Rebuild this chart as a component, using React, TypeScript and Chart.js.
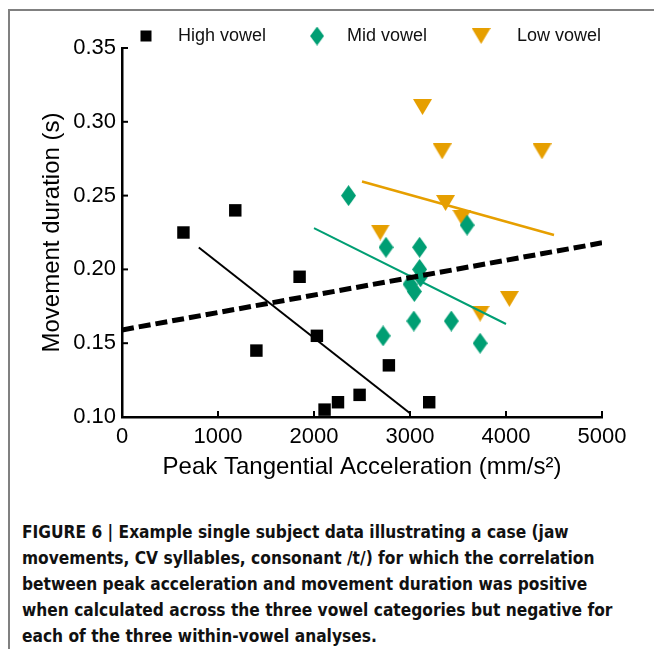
import React, { useEffect, useRef } from "react";
import { Chart, registerables } from "chart.js";

Chart.register(...registerables);

// ---- Data ----
const seriesLabels = ["High vowel", "Mid vowel", "Low vowel"];

const highX = [640, 1180, 1400, 1850, 2030, 2110, 2250, 2475, 2780, 3200];
const highY = [0.225, 0.24, 0.145, 0.195, 0.155, 0.105, 0.11, 0.115, 0.135, 0.11];

const midX = [2360, 2750, 3100, 3100, 3110, 3000, 3045, 3040, 3430, 2720, 3730, 3595];
const midY = [0.25, 0.215, 0.215, 0.2, 0.195, 0.19, 0.185, 0.165, 0.165, 0.155, 0.15, 0.23];

const lowX = [3130, 3335, 4375, 3370, 3540, 2690, 3730, 4035];
const lowY = [0.31, 0.28, 0.28, 0.245, 0.235, 0.225, 0.17, 0.18];

// regression line end points
const highFitX = [800, 3000];
const highFitY = [0.2148, 0.1025];
const midFitX = [2000, 4000];
const midFitY = [0.228, 0.163];
const lowFitX = [2500, 4500];
const lowFitY = [0.2595, 0.2233];
const allFitX = [0, 5000];
const allFitY = [0.159, 0.218];

const xTickStep = 1000;
const yTickStep = 0.05;
const xRange = [0, 5000];
const yRange = [0.1, 0.35];

const xTitle = "Peak Tangential Acceleration (mm/s\u00B2)";
const yTitle = "Movement duration (s)";

const captionLines = [
  "FIGURE 6 | Example single subject data illustrating a case (jaw",
  "movements, CV syllables, consonant /t/) for which the correlation",
  "between peak acceleration and movement duration was positive",
  "when calculated across the three vowel categories but negative for",
  "each of the three within-vowel analyses.",
];

// ---- Styles ----
const GREEN = "#009E73";
const ORANGE = "#E69F00";
const BLACK = "#000000";
const FONT = '"Liberation Sans", Arial, Helvetica, sans-serif';

const pts = (xs: number[], ys: number[]) => xs.map((x, i) => ({ x, y: ys[i] }));

function makeDiamond(): HTMLCanvasElement {
  const c = document.createElement("canvas");
  c.width = 15;
  c.height = 21;
  const g = c.getContext("2d")!;
  g.fillStyle = GREEN;
  g.beginPath();
  g.moveTo(7.5, 0);
  g.lineTo(15, 10.5);
  g.lineTo(7.5, 21);
  g.lineTo(0, 10.5);
  g.closePath();
  g.fill();
  return c;
}

function makeTriangle(): HTMLCanvasElement {
  const c = document.createElement("canvas");
  c.width = 19;
  c.height = 16;
  const g = c.getContext("2d")!;
  g.fillStyle = ORANGE;
  g.beginPath();
  g.moveTo(0, 0);
  g.lineTo(19, 0);
  g.lineTo(9.5, 16);
  g.closePath();
  g.fill();
  return c;
}

export default function App() {
  const ref = useRef<HTMLCanvasElement>(null);

  useEffect(() => {
    const diamond = makeDiamond();
    const triangle = makeTriangle();

    const inwardTicks = {
      id: "inwardTicks",
      afterDraw(chart: any) {
        const { ctx, chartArea, scales } = chart;
        ctx.save();
        ctx.strokeStyle = BLACK;
        ctx.lineWidth = 2;
        scales.x.ticks.forEach((t: any) => {
          const px = scales.x.getPixelForValue(t.value);
          ctx.beginPath();
          ctx.moveTo(px, chartArea.bottom);
          ctx.lineTo(px, chartArea.bottom - 6);
          ctx.stroke();
        });
        scales.y.ticks.forEach((t: any) => {
          const py = scales.y.getPixelForValue(t.value);
          ctx.beginPath();
          ctx.moveTo(chartArea.left, py);
          ctx.lineTo(chartArea.left + 6, py);
          ctx.stroke();
        });
        ctx.restore();
      },
    };

    const customLegend = {
      id: "customLegend",
      afterDraw(chart: any) {
        const { ctx, chartArea } = chart;
        const y = chartArea.top - 12;
        let x = chartArea.left + 24;
        const textOffsets = [32, 30, 36];
        const gaps = [51, 54, 0];
        ctx.save();
        ctx.font = `18px ${FONT}`;
        ctx.textBaseline = "middle";
        ctx.textAlign = "left";
        seriesLabels.forEach((label, i) => {
          if (i === 0) {
            ctx.fillStyle = BLACK;
            ctx.fillRect(x - 5.5, y - 5.5, 11, 11);
          } else if (i === 1) {
            ctx.drawImage(diamond, x - 7, y - 9.5, 14, 19);
          } else {
            ctx.drawImage(triangle, x - 9.5, y - 8, 19, 16);
          }
          ctx.fillStyle = "#111";
          ctx.fillText(label, x + textOffsets[i], y);
          x += textOffsets[i] + ctx.measureText(label).width + gaps[i];
        });
        ctx.restore();
      },
    };

    const chart = new Chart(ref.current!, {
      type: "scatter",
      data: {
        datasets: [
          {
            label: "All",
            data: pts(allFitX, allFitY),
            showLine: true,
            borderColor: BLACK,
            borderWidth: 5,
            borderDash: [12, 5],
            pointRadius: 0,
            fill: false,
            order: 0,
          } as any,
          {
            label: "High fit",
            data: pts(highFitX, highFitY),
            showLine: true,
            borderColor: BLACK,
            borderWidth: 2,
            pointRadius: 0,
            order: 1,
          },
          {
            label: "Mid fit",
            data: pts(midFitX, midFitY),
            showLine: true,
            borderColor: GREEN,
            borderWidth: 2,
            pointRadius: 0,
            order: 1,
          },
          {
            label: "Low fit",
            data: pts(lowFitX, lowFitY),
            showLine: true,
            borderColor: ORANGE,
            borderWidth: 2.5,
            pointRadius: 0,
            order: 1,
          },
          {
            label: seriesLabels[0],
            data: pts(highX, highY),
            pointStyle: "rect",
            pointRadius: 8.8,
            backgroundColor: BLACK,
            borderColor: BLACK,
            borderWidth: 0,
            order: 2,
            clip: false,
          } as any,
          {
            label: seriesLabels[1],
            data: pts(midX, midY),
            pointStyle: diamond,
            pointRadius: 10,
            order: 2,
            clip: false,
          } as any,
          {
            label: seriesLabels[2],
            data: pts(lowX, lowY),
            pointStyle: triangle,
            pointRadius: 10,
            order: 2,
            clip: false,
          } as any,
        ],
      },
      options: {
        animation: false,
        responsive: false,
        maintainAspectRatio: false,
        layout: { padding: { left: 0, right: 60, top: 37, bottom: 0 } },
        plugins: {
          legend: { display: false },
          tooltip: { enabled: false },
        },
        scales: {
          x: {
            type: "linear",
            min: xRange[0],
            max: xRange[1],
            grid: { display: false, drawTicks: false },
            border: { display: true, color: BLACK, width: 2.5 },
            ticks: {
              stepSize: xTickStep,
              color: BLACK,
              padding: 7,
              maxRotation: 0,
              autoSkip: false,
              font: { family: FONT, size: 22, lineHeight: 1.2 },
              callback: (v: any) => String(Math.round(Number(v))),
            },
            title: {
              display: true,
              text: xTitle,
              color: BLACK,
              font: { family: FONT, size: 24, lineHeight: 1.2 },
              padding: { top: 0, bottom: 19.6 },
            },
            afterFit: (s: any) => {
              s.height = 84;
            },
          },
          y: {
            type: "linear",
            min: yRange[0],
            max: yRange[1],
            grid: { display: false, drawTicks: false },
            border: { display: true, color: BLACK, width: 2.5 },
            ticks: {
              stepSize: yTickStep,
              color: BLACK,
              padding: 6,
              font: { family: FONT, size: 22, lineHeight: 1.2 },
              callback: (v: any) => Number(v).toFixed(2),
            },
            title: {
              display: true,
              text: yTitle,
              color: BLACK,
              font: { family: FONT, size: 24, lineHeight: 1.2 },
              padding: { top: 27.6, bottom: 0 },
            },
            afterFit: (s: any) => {
              s.width = 112;
            },
          },
        },
      } as any,
      plugins: [inwardTicks, customLegend],
    });
    return () => chart.destroy();
  }, []);

  return (
    <div
      style={{
        marginTop: 1,
        width: 652,
        borderLeft: "2px solid #808080",
        borderTop: "2px solid #808080",
        background: "#fff",
      }}
    >
      <canvas ref={ref} width={652} height={490} style={{ display: "block", width: 652, height: 490 }} />
      <div
        style={{
          marginTop: 18,
          paddingLeft: 12,
          fontFamily: '"Liberation Sans Narrow", "DejaVu Sans Condensed", "Liberation Sans", Arial, sans-serif',
          fontWeight: 700,
          fontSize: 17.2,
          lineHeight: "26px",
          color: "#111",
          whiteSpace: "nowrap",
        }}
      >
        {captionLines.map((l, i) => (
          <div key={i}>{l}</div>
        ))}
      </div>
    </div>
  );
}
